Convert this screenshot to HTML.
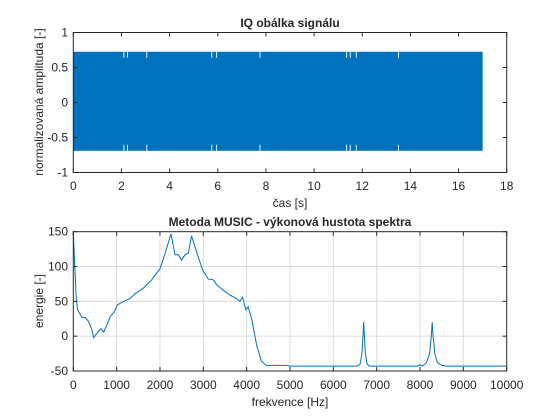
<!DOCTYPE html>
<html><head><meta charset="utf-8"><style>
body{margin:0;background:#fff}
svg{display:block;font-family:"Liberation Sans",Arial,sans-serif}
</style></head><body>
<svg id="c" width="560" height="420" viewBox="0 0 560 420"></svg>
<script>
const topXTicks=[0,2,4,6,8,10,12,14,16,18];
const topYTicks=[-1,-0.5,0,0.5,1];
const topYLabels=["-1","-0.5","0","0.5","1"];
const sigEnd=17.0, sigTop=0.725, sigBottom=-0.69;
const notchTimes=[2.1,2.25,3.05,5.75,5.95,7.75,11.35,11.5,11.75,13.5];
const botXTicks=[0,1000,2000,3000,4000,5000,6000,7000,8000,9000,10000];
const botYTicks=[-50,0,50,100,150];
const freq=[0,23,46,69,100,200,276,353,430,468,545,637,698,775,851,943,1020,1158,1311,1427,1618,1810,2002,2117,2255,2347,2424,2500,2577,2654,2730,2846,2984,3114,3229,3306,3459,3613,3766,3843,3904,3981,4034,4111,4226,4341,4456,4916,4993,6550,6620,6660,6690,6700,6710,6740,6780,6830,7950,8000,8050,8150,8220,8260,8280,8300,8340,8400,8500,8600,10000];
const psd=[150,114,85,52,38,27,27,21,9,-2,4,11,6,16,28,35,45,50,54,61,69,81,97,119,147,117,117,109,117,119,144,121,95,82,81,74,66,59,54,50,56,38,42,26,-12,-36,-42,-42,-43,-43,-40,-25,5,20,8,-25,-40,-43,-43,-41,-43,-38,-25,0,20,2,-25,-38,-42,-43,-43];

const NS="http://www.w3.org/2000/svg";
const svg=document.getElementById('c');
function mk(t,a,p){const e=document.createElementNS(NS,t);for(const k in a)e.setAttribute(k,a[k]);(p||svg).appendChild(e);return e;}
function txt(x,y,s,a){const e=mk('text',Object.assign({x:x,y:y,fill:'#262626','font-size':'12'},a||{}));e.textContent=s;return e;}

// ---- top axes
const T={x0:73.3,x1:506.7,y0:172.5,y1:32.5};
const tx=v=>T.x0+(v-0)/18*(T.x1-T.x0);
const ty=v=>T.y0-(v+1)/2*(T.y0-T.y1);
const g1=mk('g',{});


const sig=mk('rect',{x:tx(0),y:ty(sigTop),width:tx(sigEnd)-tx(0),height:ty(sigBottom)-ty(sigTop),fill:'#0072BD'},g1);


notchTimes.forEach(t=>{
  const n1=mk('rect',{x:tx(t)-0.4,y:ty(sigTop),width:0.9,height:6,fill:'#fff'},g1);
  
  
  const n2=mk('rect',{x:tx(t)-0.4,y:ty(sigBottom)-6,width:0.9,height:6,fill:'#fff'},g1);
  
  
});
mk('rect',{x:T.x0,y:T.y1,width:T.x1-T.x0,height:T.y0-T.y1,fill:'none',stroke:'#262626','stroke-width':1},g1);
topXTicks.forEach(v=>{
  const x=tx(v);
  mk('line',{x1:x,x2:x,y1:T.y0,y2:T.y0-4,stroke:'#262626'},g1);
  mk('line',{x1:x,x2:x,y1:T.y1,y2:T.y1+4,stroke:'#262626'},g1);
  const l=txt(x,190,String(v),{'text-anchor':'middle'});
  
  
});
topYTicks.forEach((v,i)=>{
  const y=ty(v);
  mk('line',{x1:T.x0,x2:T.x0+4,y1:y,y2:y,stroke:'#262626'},g1);
  mk('line',{x1:T.x1,x2:T.x1-4,y1:y,y2:y,stroke:'#262626'},g1);
  const l=txt(68,y+4,topYLabels[i],{'text-anchor':'end'});
  
  
});
const t1=txt(290,27,'IQ obálka signálu',{'text-anchor':'middle','font-weight':'bold'});


const xl1=txt(290,207,'čas [s]',{'text-anchor':'middle'});


const yl1=txt(0,0,'normalizovaná amplituda [-]',{'text-anchor':'middle',transform:'translate(43,102) rotate(-90)'});



// ---- bottom axes
const B={x0:73.3,x1:506.7,y0:371,y1:231.7};
const bx=v=>B.x0+v/10000*(B.x1-B.x0);
const by=v=>B.y0-(v+50)/200*(B.y0-B.y1);
const g2=mk('g',{});


botXTicks.forEach(v=>{
  const x=bx(v);
  if(v>0&&v<10000)mk('line',{x1:x,x2:x,y1:B.y0,y2:B.y1,stroke:'#dcdcdc'},g2);
});
botYTicks.forEach(v=>{
  const y=by(v);
  if(v>-50&&v<150)mk('line',{x1:B.x0,x2:B.x1,y1:y,y2:y,stroke:'#dcdcdc'},g2);
});
const pts=freq.map((f,i)=>bx(f).toFixed(1)+','+by(psd[i]).toFixed(1)).join(' ');
const pl=mk('polyline',{points:pts,fill:'none',stroke:'#0072BD','stroke-width':1},g2);


mk('rect',{x:B.x0,y:B.y1,width:B.x1-B.x0,height:B.y0-B.y1,fill:'none',stroke:'#262626','stroke-width':1},g2);
botXTicks.forEach(v=>{
  const x=bx(v);
  mk('line',{x1:x,x2:x,y1:B.y0,y2:B.y0-4,stroke:'#262626'},g2);
  mk('line',{x1:x,x2:x,y1:B.y1,y2:B.y1+4,stroke:'#262626'},g2);
  const l=txt(x,389,String(v),{'text-anchor':'middle'});
  
  
});
botYTicks.forEach(v=>{
  const y=by(v);
  mk('line',{x1:B.x0,x2:B.x0+4,y1:y,y2:y,stroke:'#262626'},g2);
  mk('line',{x1:B.x1,x2:B.x1-4,y1:y,y2:y,stroke:'#262626'},g2);
  const l=txt(68,y+4,String(v),{'text-anchor':'end'});
  
  
});
const t2=txt(290,226,'Metoda MUSIC - výkonová hustota spektra',{'text-anchor':'middle','font-weight':'bold'});


const xl2=txt(290,406,'frekvence [Hz]',{'text-anchor':'middle'});


const yl2=txt(0,0,'energie [-]',{'text-anchor':'middle',transform:'translate(43,301) rotate(-90)'});


</script>
</body></html>
